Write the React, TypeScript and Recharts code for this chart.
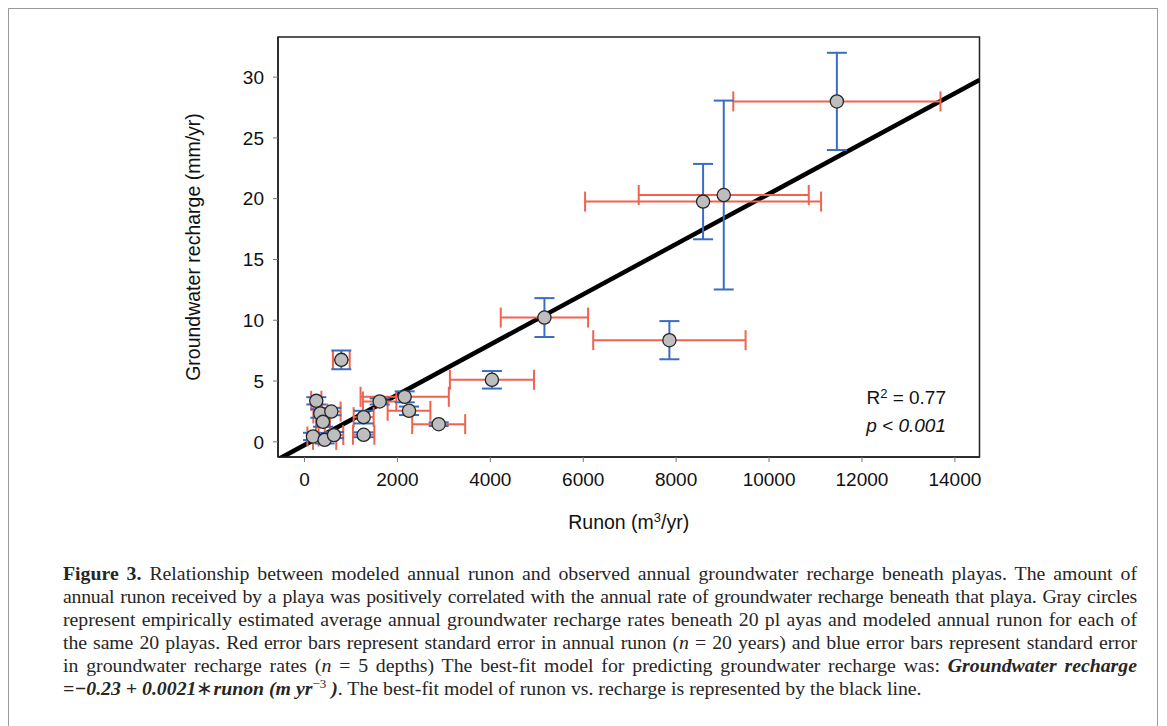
import React from 'react';
import { ScatterChart, Scatter, XAxis, YAxis, ErrorBar, ReferenceLine, ReferenceArea } from 'recharts';

// Runon (m3/yr), groundwater recharge (mm/yr) and their standard errors for 20 playas
const runon = [11460, 8580, 9025, 5165, 7855, 4035, 793, 254, 341, 578, 398, 183, 434, 635, 1274, 1274, 1618, 2157, 2250, 2889];
const recharge = [28.0, 19.76, 20.3, 10.22, 8.36, 5.1, 6.74, 3.37, 2.33, 2.49, 1.64, 0.44, 0.16, 0.55, 2.03, 0.58, 3.32, 3.7, 2.55, 1.45];
const runonSE = [2230, 2540, 1830, 940, 1640, 905, 180, 110, 150, 200, 150, 120, 250, 200, 215, 230, 360, 950, 460, 570];
const rechargeSE = [4.0, 3.1, 7.77, 1.6, 1.57, 0.72, 0.77, 0.3, 0.35, 0.3, 0.4, 0.3, 0.3, 0.25, 0.52, 0.2, 0.25, 0.45, 0.35, 0.15];

const xTicks = [0, 2000, 4000, 6000, 8000, 10000, 12000, 14000];
const yTicks = [0, 5, 10, 15, 20, 25, 30];
const xDomain = [-570, 14530];
const yDomain = [-1.25, 33.3];

// best-fit line endpoints (runon, recharge)
const fitLine = [
  { x: -570, y: -1.45 },
  { x: 14530, y: 29.77 },
];

const points = runon.map((x, i) => ({ x, y: recharge[i], xe: runonSE[i], ye: rechargeSE[i] }));

const RED = '#f0634f';
const BLUE = '#3b6cc5';
const FRAME = '#231f20';
const SANS = '"Liberation Sans", Arial, sans-serif';
const SERIF = '"Liberation Serif", "Times New Roman", serif';

const Dot = (props: any) => {
  const { cx, cy } = props;
  if (cx == null || cy == null) return null;
  return <circle cx={cx} cy={cy} r={6.6} fill="#bebebe" stroke="#262626" strokeWidth={1.3} />;
};

const YTitle = (props: any) => {
  const vb = props.viewBox || {};
  const x = vb.x + vb.width - 78;
  const y = vb.y + vb.height / 2;
  return (
    <text x={x} y={y} transform={`rotate(-90 ${x} ${y})`} textAnchor="middle" fontFamily={SANS} fontSize={19.5} fill="#111">
      Groundwater recharge (mm/yr)
    </text>
  );
};

const XTitle = (props: any) => {
  const vb = props.viewBox || {};
  const x = vb.x + vb.width / 2;
  const y = vb.y + 72;
  return (
    <text x={x} y={y} textAnchor="middle" fontFamily={SANS} fontSize={19.5} fill="#111">
      Runon (m<tspan dy={-7} fontSize={13}>3</tspan><tspan dy={7}>/yr)</tspan>
    </text>
  );
};

const lineStyle: React.CSSProperties = {
  textAlign: 'justify',
  textAlignLast: 'justify' as any,
  whiteSpace: 'nowrap',
  height: 23,
};

export default function App() {
  return (
    <div
      style={{
        position: 'relative',
        width: 1150,
        height: 740,
        border: '1.5px solid #9a9a9a',
        boxSizing: 'border-box',
        background: '#fff',
      }}
    >
      <div style={{ position: 'absolute', left: 0, top: 0 }}>
        <ScatterChart width={1000} height={540} margin={{ top: 28, right: 29.5, left: 0, bottom: 0 }}>
          <XAxis
            type="number"
            dataKey="x"
            domain={xDomain}
            allowDataOverflow
            ticks={xTicks}
            tickSize={5}
            tickMargin={11}
            axisLine={{ stroke: FRAME, strokeWidth: 1.5 }}
            tickLine={{ stroke: '#777' }}
            tick={{ fontFamily: SANS, fontSize: 19, fill: '#111' }}
            height={92}
            label={<XTitle />}
          />
          <YAxis
            type="number"
            dataKey="y"
            domain={yDomain}
            allowDataOverflow
            ticks={yTicks}
            tickSize={5}
            tickMargin={9}
            axisLine={{ stroke: FRAME, strokeWidth: 1.5 }}
            tickLine={{ stroke: '#777' }}
            tick={{ fontFamily: SANS, fontSize: 19, fill: '#111' }}
            width={269}
            label={<YTitle />}
          />
          <ReferenceArea
            x1={xDomain[0]}
            x2={xDomain[1]}
            y1={yDomain[0]}
            y2={yDomain[1]}
            fill="none"
            stroke={FRAME}
            strokeWidth={1.5}
            ifOverflow="visible"
          />
          <ReferenceLine segment={fitLine} stroke="#000" strokeWidth={4.5} ifOverflow="hidden" />
          <Scatter data={points} shape={<Dot />} isAnimationActive={false}>
            <ErrorBar dataKey="xe" direction="x" stroke={RED} strokeWidth={2} width={10} isAnimationActive={false} />
            <ErrorBar dataKey="ye" direction="y" stroke={BLUE} strokeWidth={2} width={10} isAnimationActive={false} />
          </Scatter>
        </ScatterChart>
      </div>

      <div
        style={{
          position: 'absolute',
          left: 0,
          top: 376,
          width: 937,
          textAlign: 'right',
          fontFamily: SANS,
          fontSize: 19,
          lineHeight: '26px',
          color: '#111',
        }}
      >
        <div>
          R<span style={{ fontSize: 13, position: 'relative', top: -6 }}>2</span> = 0.77
        </div>
        <div style={{ fontStyle: 'italic' }}>p &lt; 0.001</div>
      </div>

      <div
        style={{
          position: 'absolute',
          left: 54,
          top: 553,
          width: 1074,
          fontFamily: SERIF,
          fontSize: 19.8,
          lineHeight: '23px',
          color: '#262626',
        }}
      >
        <div style={lineStyle}>
          <b>Figure 3.</b> Relationship between modeled annual runon and observed annual groundwater recharge beneath playas. The amount of
        </div>
        <div style={{ ...lineStyle, letterSpacing: -0.25 }}>
          annual runon received by a playa was positively correlated with the annual rate of groundwater recharge beneath that playa. Gray circles
        </div>
        <div style={lineStyle}>
          represent empirically estimated average annual groundwater recharge rates beneath 20 pl ayas and modeled annual runon for each of
        </div>
        <div style={{ ...lineStyle, letterSpacing: -0.1 }}>
          the same 20 playas. Red error bars represent standard error in annual runon (<i>n</i> = 20 years) and blue error bars represent standard error
        </div>
        <div style={lineStyle}>
          in groundwater recharge rates (<i>n</i> = 5 depths) The best-fit model for predicting groundwater recharge was: <b><i>Groundwater recharge</i></b>
        </div>
        <div style={{ whiteSpace: 'nowrap', height: 23 }}>
          <b><i>=−0.23 + 0.0021</i></b>∗<b><i>runon (m yr</i></b>
          <span style={{ fontSize: 13, position: 'relative', top: -7 }}>−3</span>
          <b><i> )</i></b>. The best-fit model of runon vs. recharge is represented by the black line.
        </div>
      </div>
    </div>
  );
}
